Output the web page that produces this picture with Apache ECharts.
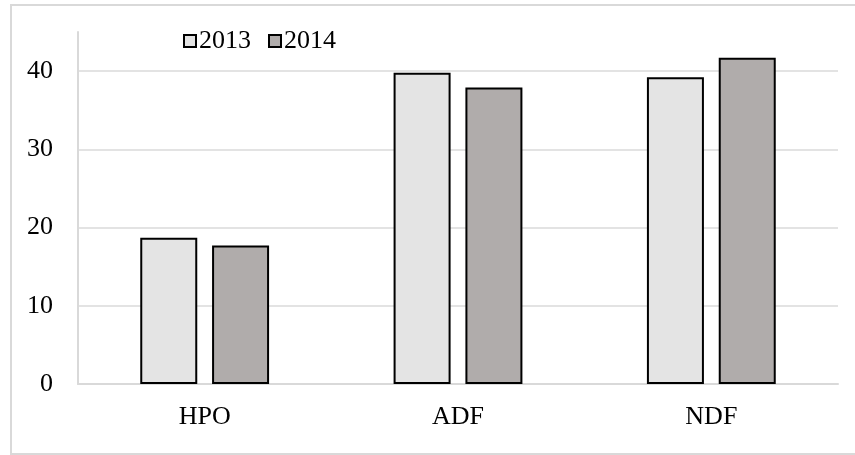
<!DOCTYPE html>
<html>
<head>
<meta charset="utf-8">
<script src="https://cdn.jsdelivr.net/npm/echarts@6/dist/echarts.min.js"></script>
<style>
  html, body { margin: 0; padding: 0; background: #fff; }
  #chart { width: 855px; height: 455px; }
</style>
</head>
<body>
<div id="chart"></div>
<script>
// values
const categories = ['HPO', 'ADF', 'NDF'];
const seriesNames = ['2013', '2014'];
const values2013 = [18.7, 39.8, 39.2];
const values2014 = [17.7, 37.9, 41.7];
const barColors = ['#e4e4e4', '#b0acab'];

const font = 'Liberation Serif';
const chart = echarts.init(document.getElementById('chart'));

const option = {
  backgroundColor: '#fff',
  animation: false,
  graphic: [{
    type: 'rect',
    shape: { x: 11, y: 5, width: 870, height: 449 },
    style: { fill: 'none', stroke: '#d9d9d9', lineWidth: 2 },
    silent: true
  }],
  legend: {
    left: 178,
    top: 23,
    itemWidth: 12,
    itemHeight: 12,
    itemGap: 17,
    icon: 'rect',
    textStyle: { fontFamily: font, fontSize: 26, color: '#000', padding: [0, 0, 0, -2] },
    data: seriesNames.map((n, i) => ({
      name: n,
      itemStyle: { color: barColors[i], borderColor: '#000', borderWidth: 2 }
    }))
  },
  grid: { left: 78, right: 17, top: 32, bottom: 71, containLabel: false },
  xAxis: {
    type: 'category',
    data: categories,
    axisLine: { lineStyle: { color: '#d9d9d9', width: 2 } },
    axisTick: { show: false },
    axisLabel: { fontFamily: font, fontSize: 26, color: '#000', margin: 20 }
  },
  yAxis: {
    type: 'value',
    min: 0,
    max: 45,
    interval: 10,
    axisLine: { show: true, lineStyle: { color: '#d9d9d9', width: 2 } },
    axisTick: { show: false },
    axisLabel: {
      fontFamily: font, fontSize: 26, color: '#000', margin: 25,
      formatter: v => (v % 10 === 0 ? String(v) : '')
    },
    splitLine: {
      lineStyle: {
        color: ['#d9d9d9', '#e3e3e3', '#e3e3e3', '#e3e3e3', '#e3e3e3', 'rgba(0,0,0,0)'],
        width: 2
      }
    }
  },
  series: [
    {
      name: seriesNames[0],
      type: 'bar',
      data: values2013,
      barWidth: 57,
      barGap: '26%',
      itemStyle: { color: barColors[0], borderColor: '#000', borderWidth: 2 }
    },
    {
      name: seriesNames[1],
      type: 'bar',
      data: values2014,
      barWidth: 57,
      barGap: '26%',
      itemStyle: { color: barColors[1], borderColor: '#000', borderWidth: 2 }
    }
  ]
};

chart.setOption(option);
window.addEventListener('resize', () => chart.resize());
</script>
</body>
</html>
